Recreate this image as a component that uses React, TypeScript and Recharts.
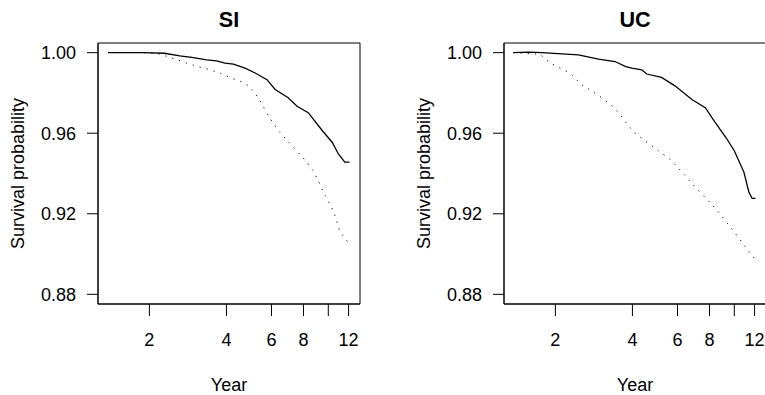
import { LineChart, Line, XAxis, YAxis, ReferenceArea } from 'recharts'

const yearTicks = [2, 4, 6, 8, 10, 12]
const probTicks = [0.88, 0.92, 0.96, 1.0]

// SI panel: observed (solid) and expected (dotted)
const siObsYears = [1.38, 1.9, 2.29, 2.63, 2.93, 3.35, 3.66, 3.95, 4.26, 4.73, 5.18, 5.76, 6.2, 6.97, 7.55, 8.35, 9.5, 10.37, 10.95, 11.6, 12.1]
const siObsSurv = [1.0, 1.0, 0.9997, 0.9984, 0.9977, 0.9964, 0.9959, 0.9948, 0.9943, 0.9923, 0.9899, 0.9866, 0.9817, 0.9776, 0.9734, 0.9702, 0.9611, 0.9554, 0.9497, 0.9456, 0.9456]
const siExpYears = [1.38, 1.9, 2.2, 2.36, 2.58, 2.79, 3.1, 3.45, 3.77, 4.18, 4.6, 4.92, 5.33, 5.84, 6.4, 7.2, 8.26, 8.8, 9.57, 10.5, 11.1, 12.0]
const siExpSurv = [1.0, 1.0, 0.9993, 0.998, 0.9964, 0.9948, 0.9931, 0.9915, 0.9899, 0.9874, 0.9855, 0.9833, 0.9776, 0.9685, 0.9611, 0.9538, 0.9456, 0.9407, 0.9308, 0.921, 0.9112, 0.9054]

// UC panel
const ucObsYears = [1.37, 1.57, 1.77, 2.46, 2.95, 3.42, 3.77, 3.98, 4.35, 4.55, 5.2, 5.88, 6.83, 7.7, 8.43, 9.26, 10.0, 10.9, 11.4, 11.74, 12.1]
const ucObsSurv = [1.0, 1.0003, 1.0, 0.9989, 0.9968, 0.9956, 0.9931, 0.9923, 0.9915, 0.9894, 0.9877, 0.9834, 0.9767, 0.9727, 0.9653, 0.958, 0.9513, 0.9407, 0.9308, 0.9276, 0.9276]
const ucExpYears = [1.37, 1.74, 1.91, 2.09, 2.28, 2.53, 2.92, 3.28, 3.53, 3.82, 4.03, 4.48, 5.05, 5.6, 6.17, 6.83, 7.89, 8.76, 9.96, 10.9, 11.95]
const ucExpSurv = [1.0, 0.9992, 0.9948, 0.9923, 0.9899, 0.9841, 0.9792, 0.9743, 0.9702, 0.9644, 0.9608, 0.9562, 0.9513, 0.9472, 0.9415, 0.935, 0.9267, 0.9202, 0.9112, 0.9046, 0.898]

const font = '"Liberation Sans", Arial, Helvetica, sans-serif'
const xDomain = [1.26, 13.3]
const yDomain = [0.8752, 1.0048]

const toPoints = (xs: number[], ys: number[]) => xs.map((x, i) => ({ x, y: ys[i] }))

function Panel({ title, left, obs, exp }: { title: string; left: number; obs: any[]; exp: any[] }) {
  return (
    <div style={{ position: 'absolute', left, top: 0, width: 380, height: 395 }}>
      <div
        style={{
          position: 'absolute',
          left: 98,
          width: 262,
          top: 7,
          textAlign: 'center',
          fontFamily: font,
          fontWeight: 'bold',
          fontSize: 21.6,
          color: '#000',
        }}
      >
        {title}
      </div>
      <LineChart width={380} height={395} margin={{ top: 43, right: 20, bottom: 0, left: 0 }}>
        <XAxis
          dataKey="x"
          type="number"
          scale="log"
          domain={xDomain}
          allowDataOverflow
          ticks={yearTicks}
          tickFormatter={(v: number) => (v === 10 ? '' : String(v))}
          height={91}
          tickSize={12}
          tickMargin={17}
          stroke="#000"
          tick={{ fill: '#000', fontSize: 18, fontFamily: font }}
          label={{ value: 'Year', position: 'insideBottom', offset: 4, fill: '#000', fontSize: 18, fontFamily: font }}
        />
        <YAxis
          dataKey="y"
          type="number"
          domain={yDomain}
          allowDataOverflow
          ticks={probTicks}
          tickFormatter={(v: number) => v.toFixed(2)}
          width={98}
          tickSize={11}
          tickMargin={11}
          stroke="#000"
          tick={{ fill: '#000', fontSize: 18, fontFamily: font }}
          label={{
            value: 'Survival probability',
            angle: -90,
            position: 'insideLeft',
            offset: 18,
            fill: '#000',
            fontSize: 18,
            fontFamily: font,
            style: { textAnchor: 'middle' },
          }}
        />
        <ReferenceArea x1={xDomain[0]} x2={xDomain[1]} y1={yDomain[0]} y2={yDomain[1]} fill="none" stroke="#000" strokeWidth={1} />
        <Line
          data={exp}
          dataKey="y"
          type="linear"
          stroke="#000"
          strokeWidth={1}
          strokeDasharray="1.2 6"
          dot={false}
          isAnimationActive={false}
        />
        <Line data={obs} dataKey="y" type="linear" stroke="#000" strokeWidth={1.3} dot={false} isAnimationActive={false} />
      </LineChart>
    </div>
  )
}

export default function App() {
  return (
    <div style={{ position: 'absolute', left: 0, top: 0, width: 765, height: 395, overflow: 'hidden', background: '#fff' }}>
      <Panel title="SI" left={0} obs={toPoints(siObsYears, siObsSurv)} exp={toPoints(siExpYears, siExpSurv)} />
      <Panel title="UC" left={406} obs={toPoints(ucObsYears, ucObsSurv)} exp={toPoints(ucExpYears, ucExpSurv)} />
    </div>
  )
}
